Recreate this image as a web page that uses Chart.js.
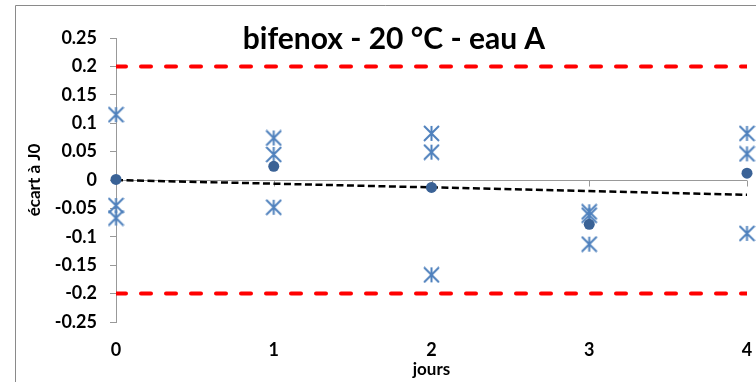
<!DOCTYPE html>
<html>
<head>
<meta charset="utf-8">
<script src="https://cdn.jsdelivr.net/npm/chart.js@4.4.0/dist/chart.umd.min.js"></script>
<style>
  html, body { margin: 0; padding: 0; background: #fff; }
  #wrap { width: 756px; height: 382px; }
</style>
</head>
<body>
<div id="wrap"><canvas id="chart" width="756" height="382"></canvas></div>
<script>
// days of measurement
const days = [0, 1, 2, 3, 4];
// three replicates, deviation from day 0
const rep1 = [0.115, 0.074, 0.082, -0.056, 0.082];
const rep2 = [-0.045, 0.045, 0.049, -0.062, 0.046];
const rep3 = [-0.067, -0.048, -0.167, -0.113, -0.094];
// mean of the replicates
const means = [0.001, 0.024, -0.013, -0.078, 0.012];
// linear trend of the means
const trendDays = [0, 4];
const trendValues = [0, -0.026];
// acceptance limits
const upperLimit = 0.2;
const lowerLimit = -0.2;
const yTicks = [-0.25, -0.2, -0.15, -0.1, -0.05, 0, 0.05, 0.1, 0.15, 0.2, 0.25];

const FONT = "Lato, 'Open Sans', sans-serif";

// asterisk marker: an X with a vertical bar
function asterisk(size, color) {
  const c = document.createElement('canvas');
  c.width = size; c.height = size;
  const g = c.getContext('2d');
  const m = size / 2, r = size / 2 - 1;
  g.strokeStyle = color;
  g.lineWidth = 2;
  g.beginPath();
  g.moveTo(m - r, m - r); g.lineTo(m + r, m + r);
  g.moveTo(m + r, m - r); g.lineTo(m - r, m + r);
  g.moveTo(m, m - r); g.lineTo(m, m + r);
  g.stroke();
  return c;
}

const repPoints = [];
[rep1, rep2, rep3].forEach(rep => rep.forEach((v, i) => repPoints.push({ x: days[i], y: v })));

const frame = {
  id: 'frame',
  beforeDraw(chart) {
    const ctx = chart.ctx;
    ctx.save();
    ctx.strokeStyle = '#8a8a8a';
    ctx.lineWidth = 1;
    ctx.beginPath();
    ctx.moveTo(15.5, chart.height);
    ctx.lineTo(15.5, 5.5);
    ctx.lineTo(chart.width, 5.5);
    ctx.stroke();
    ctx.restore();
  },
  beforeDatasetsDraw(chart) {
    // small tick marks hanging under the zero line
    const { ctx, scales: { x, y } } = chart;
    const y0 = Math.round(y.getPixelForValue(0)) + 0.5;
    ctx.save();
    ctx.strokeStyle = '#999';
    ctx.lineWidth = 1;
    ctx.beginPath();
    x.ticks.forEach(t => {
      const px = Math.round(x.getPixelForValue(t.value)) + 0.5;
      ctx.moveTo(px, y0);
      ctx.lineTo(px, y0 + 6);
    });
    ctx.stroke();
    ctx.restore();
  },
  afterDraw(chart) {
    const ctx = chart.ctx;
    ctx.save();
    ctx.fillStyle = '#000';
    ctx.font = 'bold 30px ' + FONT;
    ctx.textAlign = 'center';
    ctx.textBaseline = 'alphabetic';
    ctx.fillText('bifenox - 20 °C - eau A', 394, 49);
    ctx.restore();
  }
};

new Chart(document.getElementById('chart'), {
  type: 'scatter',
  data: {
    datasets: [
      {
        label: 'moyenne',
        data: days.map((d, i) => ({ x: d, y: means[i] })),
        pointStyle: 'circle',
        pointRadius: 5.5,
        backgroundColor: '#3A6296',
        borderColor: '#3A6296',
        borderWidth: 0,
        clip: false
      },
      {
        label: 'réplicats',
        data: repPoints,
        pointStyle: asterisk(17, '#4F81BD'),
        pointRadius: 8,
        clip: false
      },
      {
        label: 'tendance',
        data: trendDays.map((d, i) => ({ x: d, y: trendValues[i] })),
        showLine: true,
        pointRadius: 0,
        borderColor: '#000',
        borderWidth: 2.5,
        borderDash: [7, 3.5]
      },
      {
        label: 'limite haute',
        data: [{ x: days[0], y: upperLimit }, { x: days[days.length - 1], y: upperLimit }],
        showLine: true,
        pointRadius: 0,
        borderColor: '#FF0000',
        borderWidth: 4,
        borderDash: [10, 15],
        borderCapStyle: 'round'
      },
      {
        label: 'limite basse',
        data: [{ x: days[0], y: lowerLimit }, { x: days[days.length - 1], y: lowerLimit }],
        showLine: true,
        pointRadius: 0,
        borderColor: '#FF0000',
        borderWidth: 4,
        borderDash: [10, 15],
        borderCapStyle: 'round'
      }
    ]
  },
  options: {
    responsive: false,
    animation: false,
    layout: { padding: { left: 16, top: 38, right: 5, bottom: 0 } },
    plugins: { legend: { display: false }, tooltip: { enabled: false } },
    scales: {
      x: {
        type: 'linear',
        min: 0,
        max: 4,
        afterFit(s) { s.height = 60; s.paddingLeft = 0; s.paddingRight = 0; },
        ticks: { stepSize: 1, color: '#000', padding: 17, font: { family: FONT, size: 18, weight: 'bold' } },
        grid: { display: false, drawTicks: false },
        border: { display: false },
        title: { display: true, text: 'jours', color: '#000', padding: { top: 0, bottom: 2 }, font: { family: FONT, size: 17, weight: 'bold' } }
      },
      y: {
        min: -0.25,
        max: 0.25,
        afterFit(s) { s.width = 100; },
        afterBuildTicks(s) { s.ticks = yTicks.map(v => ({ value: v })); },
        ticks: {
          color: '#000',
          padding: 13,
          font: { family: FONT, size: 18, weight: 'bold' },
          callback: v => String(+v.toFixed(2))
        },
        grid: {
          color: c => (c.tick && Math.abs(c.tick.value) < 1e-9 ? '#999' : 'rgba(0,0,0,0)'),
          tickColor: '#999',
          tickLength: 6
        },
        border: { display: true, color: '#999' },
        title: { display: true, text: 'écart à J0', color: '#000', padding: { top: 8, bottom: 0 }, font: { family: FONT, size: 17, weight: 'bold' } }
      }
    }
  },
  plugins: [frame]
});
</script>
</body>
</html>
